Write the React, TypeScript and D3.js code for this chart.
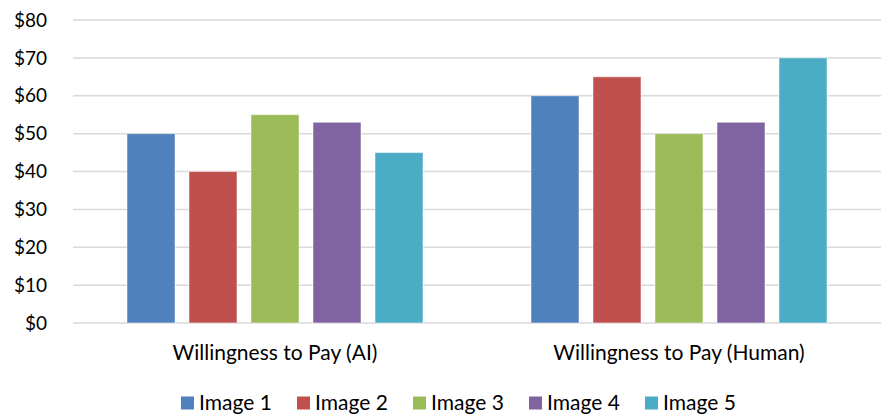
import React from "react";
import * as d3 from "d3";

const categories = ["Willingness to Pay (AI)", "Willingness to Pay (Human)"];
const seriesNames = ["Image 1", "Image 2", "Image 3", "Image 4", "Image 5"];
const seriesColors = ["#4F81BD", "#C0504D", "#9BBB59", "#8064A2", "#4BACC6"];
// values[series][category]
const image1 = [50, 60];
const image2 = [40, 65];
const image3 = [55, 50];
const image4 = [53, 53];
const image5 = [45, 70];
const values = [image1, image2, image3, image4, image5];
const yTicks = [0, 10, 20, 30, 40, 50, 60, 70, 80];

const width = 888;
const height = 417;
const margin = { left: 73, right: 7, top: 20, bottom: 94 };
const font = "Lato, 'Open Sans', sans-serif";

export default function App() {
  const x0 = d3
    .scaleBand()
    .domain(categories)
    .range([margin.left, width - margin.right]);
  const barW = 48;
  const step = 62;
  const y = d3
    .scaleLinear()
    .domain([0, 80])
    .range([height - margin.bottom, margin.top]);

  const legendStep = 116;
  const legendStart = 181;

  return (
    <svg
      width={width}
      height={height}
      style={{ position: "absolute", left: 0, top: 0, background: "#fff" }}
      fontFamily={font}
    >
      {/* gridlines + y labels */}
      {yTicks.map((t) => (
        <g key={t}>
          <line
            x1={margin.left}
            x2={width - margin.right}
            y1={y(t)}
            y2={y(t)}
            stroke="#D9D9D9"
            strokeWidth={1.5}
          />
          <text
            x={47}
            y={y(t)}
            dy="0.35em"
            textAnchor="end"
            fontSize={19}
            fill="#000"
          >
            {"$" + t}
          </text>
        </g>
      ))}

      {/* bars */}
      {categories.map((c, ci) => {
        const center = x0(c)! + x0.bandwidth() / 2;
        return (
          <g key={c}>
            {values.map((vals, si) => {
              const bx = center + (si - 2) * step - barW / 2;
              return (
                <rect
                  key={si}
                  x={bx}
                  y={y(vals[ci])}
                  width={barW}
                  height={y(0) - y(vals[ci])}
                  fill={seriesColors[si]}
                  stroke="#fff"
                  strokeOpacity={0.5}
                  strokeWidth={1}
                />
              );
            })}
            <text
              x={center}
              y={353}
              dy="0.35em"
              textAnchor="middle"
              fontSize={21}
              fill="#000"
            >
              {c}
            </text>
          </g>
        );
      })}

      {/* legend */}
      {seriesNames.map((n, i) => (
        <g key={n} transform={`translate(${legendStart + i * legendStep},403)`}>
          <rect x={0} y={-6.5} width={13} height={13} fill={seriesColors[i]} />
          <text x={18} y={0} dy="0.35em" fontSize={21} fill="#000">
            {n}
          </text>
        </g>
      ))}
    </svg>
  );
}
